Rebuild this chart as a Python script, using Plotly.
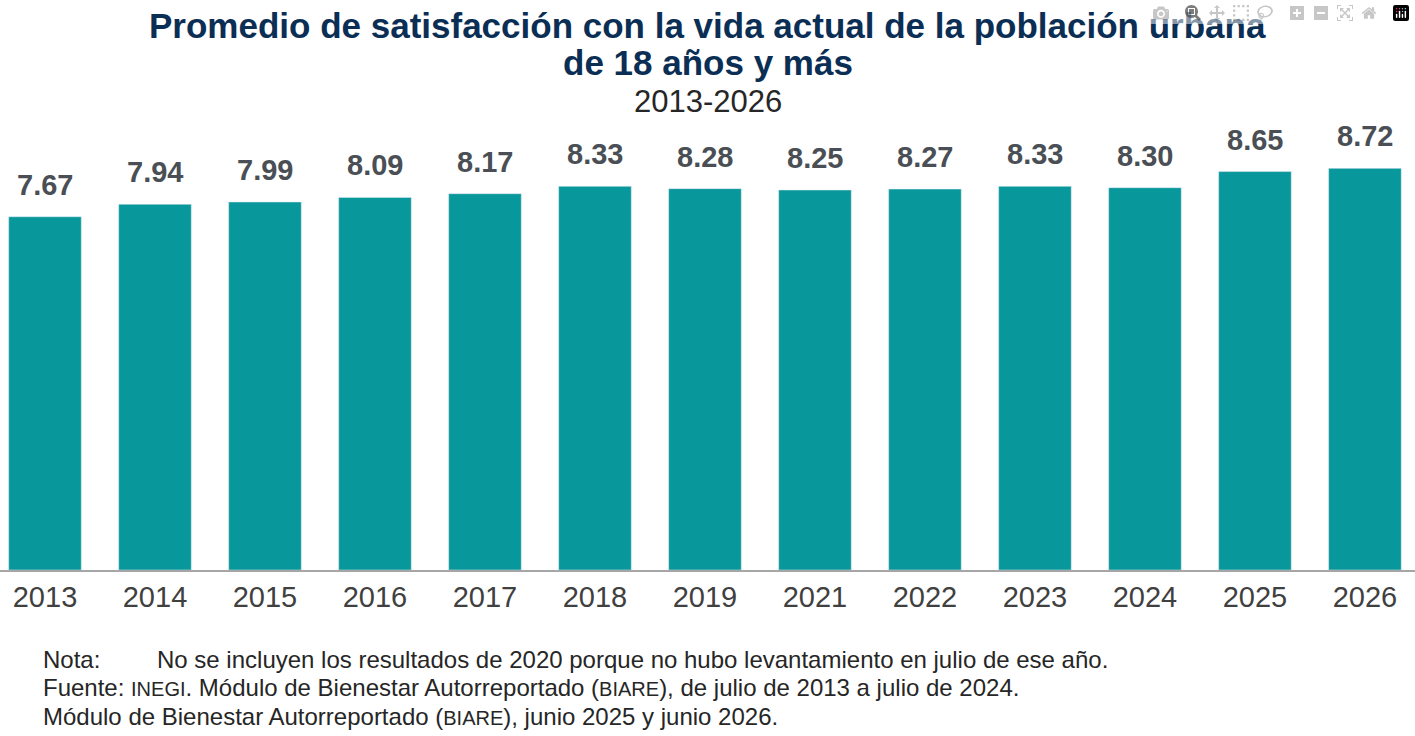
import plotly.graph_objects as go

years = ["2013","2014","2015","2016","2017","2018","2019","2021","2022","2023","2024","2025","2026"]
values = [7.67,7.94,7.99,8.09,8.17,8.33,8.28,8.25,8.27,8.33,8.30,8.65,8.72]
labels = [f"{v:.2f}" for v in values]

F = "Liberation Sans, Arial, sans-serif"
fig = go.Figure(go.Bar(
    x=list(range(len(years))), y=values,
    marker_color="#08979a", hoverinfo="skip"))
for i, (v, t) in enumerate(zip(values, labels)):
    fig.add_annotation(x=i, y=v, text=f"<b>{t}</b>", showarrow=False, yanchor="bottom",
                       yshift=14, font=dict(family=F, size=29, color="#4a4f55"))

fig.update_layout(
    width=1415, height=736, paper_bgcolor="white", plot_bgcolor="white",
    margin=dict(l=0, r=0, t=120, b=166), showlegend=False, bargap=0.34,
    font=dict(family=F),
    xaxis=dict(range=[-0.409, 12.455], tickmode="array", tickvals=list(range(len(years))),
               ticktext=years, tickfont=dict(size=29, color="#404040"),
               showline=True, linecolor="#a6a6a6", linewidth=2, ticks="", showgrid=False),
    yaxis=dict(range=[0, 9.77], visible=False),
)
def pt(yp):
    return 1 - (yp - 120) / 450
for t, yc in [("<b>Promedio de satisfacción con la vida actual de la población urbana</b>", 25),
              ("<b>de 18 años y más</b>", 62)]:
    fig.add_annotation(xref="paper", yref="paper", x=0.5, y=pt(yc), yanchor="middle",
        showarrow=False, text=t, font=dict(size=35, color="#0b2e55", family=F))
fig.add_annotation(xref="paper", yref="paper", x=0.5, y=pt(101), yanchor="middle",
    showarrow=False, text="2013-2026", font=dict(size=31, color="#262626", family=F))
sc = "<span style='font-size:20px'>"
notes = [
    ("Nota:", 659), (f"Fuente: {sc}INEGI</span>. Módulo de Bienestar Autorreportado ({sc}BIARE</span>), de julio de 2013 a julio de 2024.", 687),
    (f"Módulo de Bienestar Autorreportado ({sc}BIARE</span>), junio 2025 y junio 2026.", 716)]
for t, yp in notes:
    fig.add_annotation(xref="paper", yref="paper", x=41/1415, xanchor="left",
        y=pt(yp), yanchor="middle", showarrow=False, text=t,
        font=dict(size=24, color="#262626", family=F))
fig.add_annotation(xref="paper", yref="paper", x=155/1415, xanchor="left",
    y=pt(659), yanchor="middle", showarrow=False,
    text="No se incluyen los resultados de 2020 porque no hubo levantamiento en julio de ese año.",
    font=dict(size=24, color="#262626", family=F))
fig.write_html("out.html")
with open("out.html", encoding="utf-8") as f:
    html = f.read()
html = html.replace("<body>", "<body style=\"margin:0\">", 1)
with open("out.html", "w", encoding="utf-8") as f:
    f.write(html)
